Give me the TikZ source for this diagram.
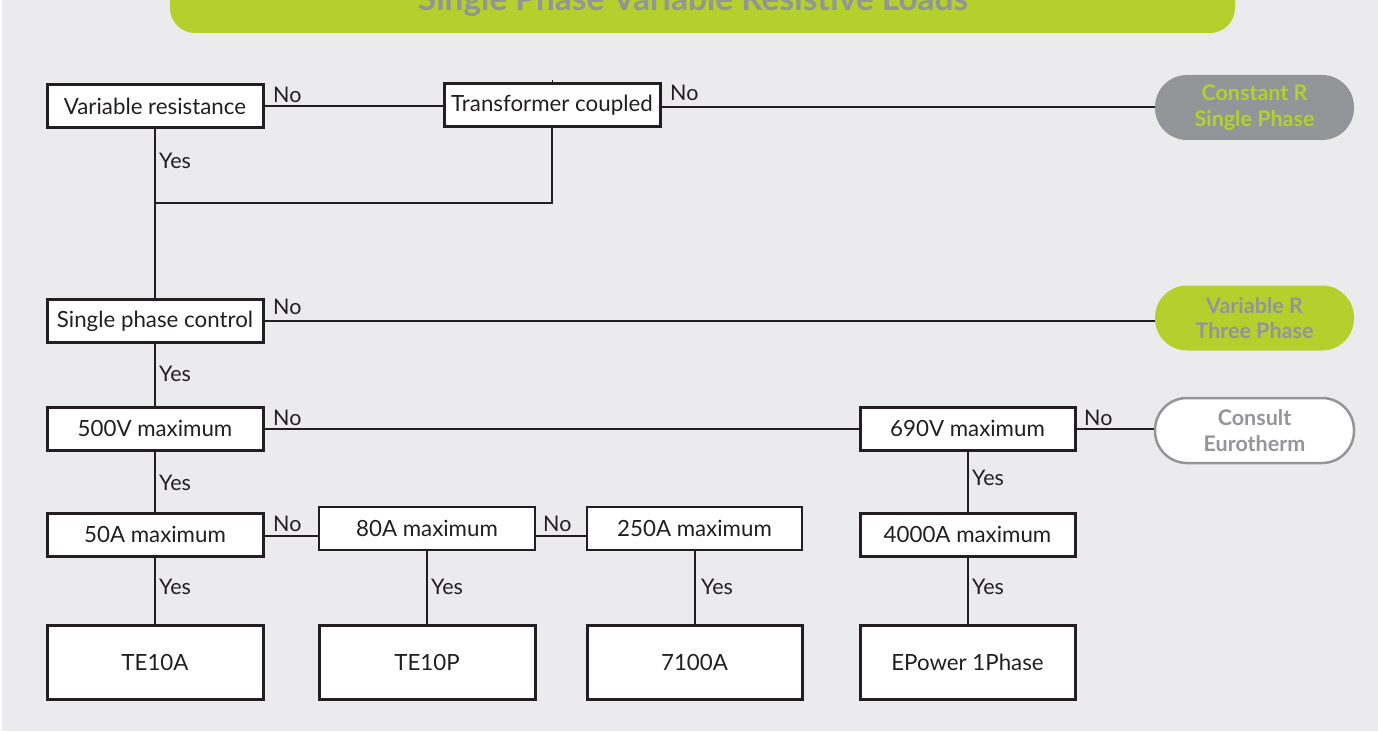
\documentclass[tikz,border=0pt]{standalone}
\usepackage{fontspec}
\setmainfont{Lato}
\usetikzlibrary{calc}
\definecolor{bg}{HTML}{EBEBED}
\definecolor{lime}{HTML}{B5CF2D}
\definecolor{midgray}{HTML}{939598}
\definecolor{ink}{HTML}{231F20}
\tikzset{
  box/.style={draw=ink, fill=white, line width=3pt, minimum width=216pt,
    minimum height=43pt, inner sep=0pt, text=ink, font=\fontsize{22.3}{24}\selectfont},
  tallbox/.style={box, minimum height=74pt},
  pill/.style={rectangle, rounded corners=32pt, minimum width=199pt, minimum height=65pt,
    inner sep=0pt, align=center, font=\bfseries\fontsize{21.5}{25.5}\selectfont},
  conn/.style={draw=ink, line width=2pt},
  lab/.style={anchor=west, inner sep=0pt, text=ink, font=\fontsize{21.5}{24}\selectfont}
}
\begin{document}
\begin{tikzpicture}[x=1pt,y=-1pt]
\useasboundingbox (0,0) rectangle (1378,733);
\fill[white] (0,0) rectangle (1378,733);
\fill[bg] (2,0) rectangle (1378,731);
% title bar
\begin{scope}
\clip (0,0) rectangle (1378,733);
\fill[lime] (170,-10) -- (170,8) arc[start angle=180, end angle=90, x radius=25pt, y radius=-25pt]
  -- (1210,33) arc[start angle=90, end angle=0, x radius=25pt, y radius=-25pt] -- (1235,-10) -- cycle;
\node[anchor=base, inner sep=0pt, text=midgray, font=\bfseries\fontsize{33.4}{36}\selectfont] (title) at (693,11) {Single Phase Variable Resistive Loads};
\end{scope}

% nodes
\node[box] (vr) at (155,106.5) {Variable resistance};
\node[box] (tc) at (552,105) {Transformer coupled};
\node[pill, fill=midgray, text=lime] (cr) at (1254.5,107.5) {Constant R\\Single Phase};
\node[box] (spc) at (155,321) {Single phase control};
\node[pill, fill=lime, text=midgray] (vr3) at (1254.5,318) {Variable R\\Three Phase};
\node[box] (v500) at (155,428.5) {500V maximum};
\node[box, minimum width=215pt] (v690) at (967.5,428.5) {690V maximum};
\node[pill, fill=white, draw=midgray, line width=2.5pt, text=midgray] (ce) at (1254.5,430.5) {Consult\\Eurotherm};
\node[box] (a50) at (155,534.5) {50A maximum};
\node[box, line width=2.5pt] (a80) at (427,528.5) {80A maximum};
\node[box, line width=2.5pt, minimum width=215pt] (a250) at (694.5,528.5) {250A maximum};
\node[box, minimum width=215pt] (a4000) at (967.5,534.5) {4000A maximum};
\node[tallbox] (te10a) at (155,662) {TE10A};
\node[tallbox] (te10p) at (427,662) {TE10P};
\node[tallbox, minimum width=215pt] (t7100) at (694.5,662) {7100A};
\node[tallbox, minimum width=215pt] (ep) at (967.5,662) {EPower 1Phase};
\coordinate (j1) at (155,203);
\coordinate (stub) at (552,80);
\coordinate (tcout) at ($(tc.east)+(0,2)$);
\coordinate (crin) at (tcout -| cr.west);
\coordinate (a50out) at ($(a50.east)+(0,1)$);
\coordinate (a80in) at (a50out -| a80.west);
\coordinate (a80out) at (a50out -| a80.east);
\coordinate (a250in) at (a50out -| a250.west);

% connectors
\draw[conn] (vr.east) -- (vr.east -| tc.west);
\draw[conn] (tcout) -- (crin);
\draw[conn, line width=1pt] (tc.north) -- (stub);
\draw[conn] (vr.south) -- (spc.north);
\draw[conn] (tc.south) |- (j1);
\draw[conn] (spc.east) -- (spc.east -| vr3.west);
\draw[conn] (spc.south) -- (v500.north);
\draw[conn] (v500.east) -- (v690.west);
\draw[conn] (v690.east) -- (v690.east -| ce.west);
\draw[conn] (v500.south) -- (a50.north);
\draw[conn] (a50out) -- (a80in);
\draw[conn] (a80out) -- (a250in);
\draw[conn] (a50.south) -- (te10a.north);
\draw[conn] (a80.south) -- (te10p.north);
\draw[conn] (a250.south) -- (t7100.north);
\draw[conn] (v690.south) -- (a4000.north);
\draw[conn] (a4000.south) -- (ep.north);

% labels
\node[lab] (l1) at (273,95) {No};
\node[lab] (l2) at (670,93) {No};
\node[lab] (l3) at (159,161) {Yes};
\node[lab] (l4) at (273,307) {No};
\node[lab] (l5) at (159,374) {Yes};
\node[lab] (l6) at (273,418) {No};
\node[lab] (l7) at (1084,418) {No};
\node[lab] (l8) at (972,478) {Yes};
\node[lab] (l9) at (159,483) {Yes};
\node[lab] (l10) at (273,524) {No};
\node[lab] (l11) at (543,524) {No};
\node[lab] (l12) at (159,587) {Yes};
\node[lab] (l13) at (431,587) {Yes};
\node[lab] (l14) at (701,587) {Yes};
\node[lab] (l15) at (972,587) {Yes};
\end{tikzpicture}
\end{document}
